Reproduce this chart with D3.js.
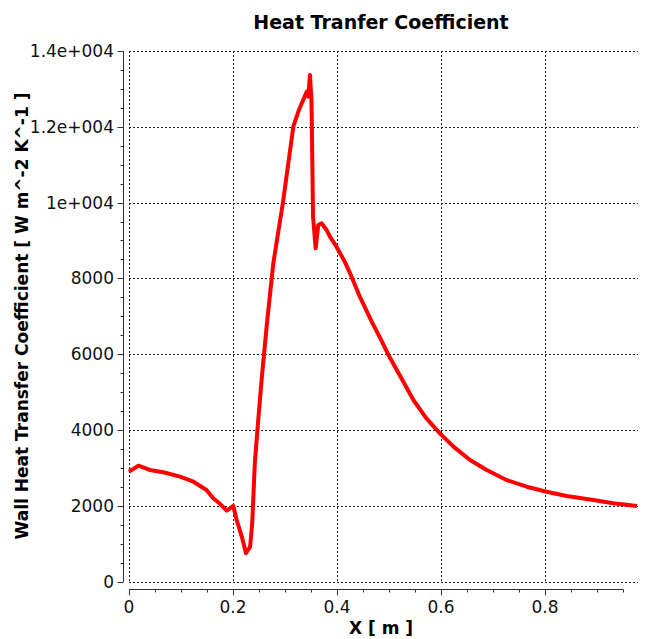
<!DOCTYPE html>
<html><head><meta charset="utf-8">
<script src="https://cdn.jsdelivr.net/npm/d3@7/dist/d3.min.js"></script>
<style>body{margin:0;background:#fff}svg{display:block}</style>
</head><body>
<script>
const xValues = [0.000,0.018,0.040,0.066,0.098,0.124,0.149,0.162,0.175,0.188,0.2006,0.207,0.217,0.225,0.233,0.237,0.242,0.247,0.255,0.266,0.2776,0.2968,0.316,0.327,0.335,0.342,0.345,0.348,0.351,0.354,0.359,0.364,0.3705,0.380,0.3865,0.399,0.415,0.428,0.444,0.467,0.483,0.499,0.524,0.547,0.572,0.598,0.624,0.656,0.688,0.726,0.765,0.803,0.842,0.893,0.931,0.977];
const yValues = [2898,3056,2943,2882,2766,2634,2415,2196,2050,1869,1993,1623,1183,744,918,1536,3120,3998,5318,6900,8398,10069,12003,12450,12708,12927,12795,13368,12708,9628,8794,9409,9453,9277,9100,8836,8440,8045,7517,6850,6430,5978,5363,4790,4307,3911,3558,3207,2943,2679,2502,2370,2256,2151,2064,1993];
const yTickValues = [0,2000,4000,6000,8000,10000,12000,14000];
const yTickLabels = ["0","2000","4000","6000","8000","1e+004","1.2e+004","1.4e+004"];
const xTickValues = [0,0.2,0.4,0.6,0.8];
const xTickLabels = ["0","0.2","0.4","0.6","0.8"];
const xMinorTicks = [0,0.05,0.1,0.15,0.2,0.25,0.3,0.35,0.4,0.45,0.5,0.55,0.6,0.65,0.7,0.75,0.8,0.85,0.9,0.95];
const yMinorTicks = d3.range(0,14001,500);
const titleText = "Heat Tranfer Coefficient";
const xLabel = "X [ m ]";
const yLabel = "Wall Heat Transfer Coefficient [ W m^-2 K^-1 ]";

const W=649,H=639;
const L=129,R=638,T=51,B=581.5;
const x=d3.scaleLinear().domain([0,0.979]).range([L,R]);
const y=d3.scaleLinear().domain([0,14000]).range([B,T]);
const font="DejaVu Sans, Verdana, sans-serif";
const svg=d3.select("body").append("svg").attr("width",W).attr("height",H);

// gridlines
const g=svg.append("g").attr("stroke","#222").attr("stroke-width",1).attr("stroke-dasharray","2,2");
g.selectAll(".gx").data(xTickValues).join("line").attr("x1",d=>Math.round(x(d))+0.5).attr("x2",d=>Math.round(x(d))+0.5).attr("y1",T).attr("y2",B);
g.selectAll(".gy").data(yTickValues).join("line").attr("y1",d=>Math.round(y(d))+0.5).attr("y2",d=>Math.round(y(d))+0.5).attr("x1",L).attr("x2",R);

// y axis (offset left)
const ax=123.5;
const ya=svg.append("g").attr("stroke","#333").attr("stroke-width",1);
ya.append("line").attr("x1",ax).attr("x2",ax).attr("y1",y(14000)).attr("y2",y(0)+0.5);
ya.selectAll(".ym").data(yMinorTicks).join("line")
  .attr("x1",d=>yTickValues.includes(d)?ax-6:ax-3).attr("x2",ax)
  .attr("y1",d=>Math.round(y(d))+0.5).attr("y2",d=>Math.round(y(d))+0.5);
svg.append("g").selectAll("text").data(yTickValues).join("text")
  .attr("x",114).attr("y",d=>y(d)).attr("dy","0.36em").attr("text-anchor","end")
  .attr("font-family",font).attr("font-size",17).attr("fill","#111")
  .text((d,i)=>yTickLabels[i]);

// x axis (offset down)
const ay=589.5;
const xa=svg.append("g").attr("stroke","#333").attr("stroke-width",1);
xa.append("line").attr("x1",x(0)).attr("x2",x(0.95)+0.5).attr("y1",ay).attr("y2",ay);
xa.selectAll(".xm").data(xMinorTicks).join("line")
  .attr("x1",d=>Math.round(x(d))+0.5).attr("x2",d=>Math.round(x(d))+0.5)
  .attr("y1",ay).attr("y2",d=>xTickValues.some(v=>Math.abs(v-d)<1e-9)?ay+6:ay+3);
svg.append("g").selectAll("text").data(xTickValues).join("text")
  .attr("x",d=>x(d)).attr("y",613).attr("text-anchor","middle")
  .attr("font-family",font).attr("font-size",17).attr("fill","#111")
  .text((d,i)=>xTickLabels[i]);

// curve
const pts=xValues.map((v,i)=>[v,yValues[i]]);
svg.append("path").datum(pts)
  .attr("d",d3.line().x(d=>x(d[0])).y(d=>y(d[1])))
  .attr("fill","none").attr("stroke","#ff0000").attr("stroke-width",4).attr("stroke-linejoin","round");

// titles
svg.append("text").attr("x",381).attr("y",29).attr("text-anchor","middle")
  .attr("font-family",font).attr("font-weight","bold").attr("font-size",19).attr("fill","#000").text(titleText);
svg.append("text").attr("x",381).attr("y",634).attr("text-anchor","middle")
  .attr("font-family",font).attr("font-weight","bold").attr("font-size",17).attr("fill","#000").text(xLabel);
svg.append("text").attr("transform","translate(28,316) rotate(-90)").attr("text-anchor","middle")
  .attr("font-family",font).attr("font-weight","bold").attr("font-size",17).attr("fill","#000").text(yLabel);
</script>
</body></html>
